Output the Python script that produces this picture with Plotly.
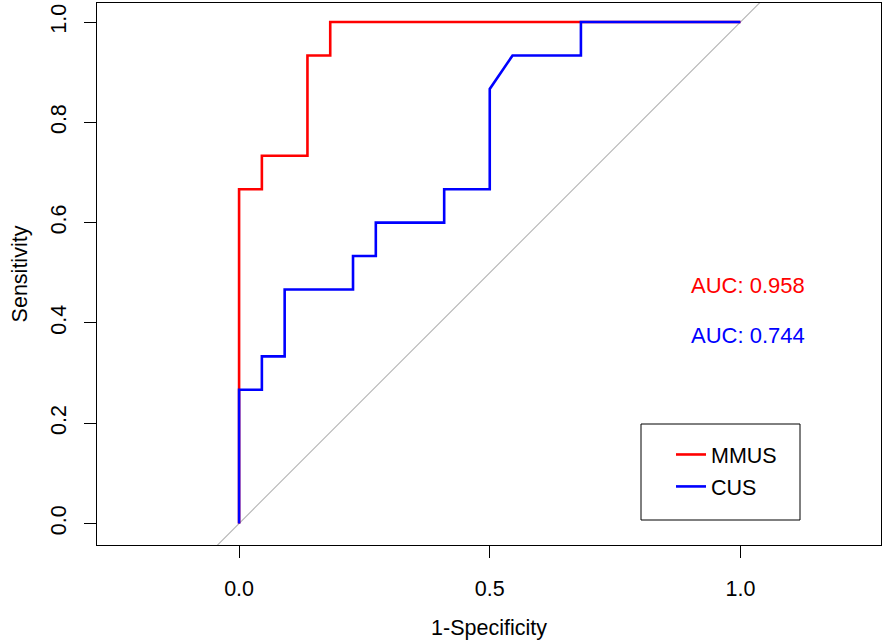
import plotly.graph_objects as go

# Data (22 negatives, 15 positives)
mmus_fpr = [0, 0, 1/22, 1/22, 3/22, 3/22, 4/22, 4/22, 1.0]
mmus_tpr = [0, 10/15, 10/15, 11/15, 11/15, 14/15, 14/15, 1.0, 1.0]
cus_fpr = [0, 0, 1/22, 1/22, 2/22, 2/22, 5/22, 5/22, 6/22, 6/22, 9/22, 9/22,
           11/22, 11/22, 12/22, 15/22, 15/22, 1.0]
cus_tpr = [0, 4/15, 4/15, 5/15, 5/15, 7/15, 7/15, 8/15, 8/15, 9/15, 9/15, 10/15,
           10/15, 13/15, 14/15, 14/15, 1.0, 1.0]
auc_labels = ["AUC: 0.958", "AUC: 0.744"]
auc_y = [0.4756, 0.374]
auc_x = 1.015
series_names = ["MMUS", "CUS"]
colors = ["#FF0000", "#0000FF"]
x_ticks = [0.0, 0.5, 1.0]
x_ticklabels = ["0.0", "0.5", "1.0"]
y_ticks = [0.0, 0.2, 0.4, 0.6, 0.8, 1.0]
y_ticklabels = ["0.0", "0.2", "0.4", "0.6", "0.8", "1.0"]

FONT = "Liberation Sans, Arial, sans-serif"
FS = 21.5

fig = go.Figure()
# chance diagonal
fig.add_trace(go.Scatter(x=[-1, 2], y=[-1, 2], mode="lines",
                         line=dict(color="#B4B4B4", width=1.1), showlegend=False,
                         hoverinfo="skip"))
fig.add_trace(go.Scatter(x=mmus_fpr, y=mmus_tpr, mode="lines", name=series_names[0],
                         line=dict(color=colors[0], width=2.6), legendgroup="a"))
fig.add_trace(go.Scatter(x=cus_fpr, y=cus_tpr, mode="lines", name=series_names[1],
                         line=dict(color=colors[1], width=2.6), legendgroup="b"))

for txt, yy, c in zip(auc_labels, auc_y, colors):
    fig.add_annotation(x=auc_x, y=yy, xref="x", yref="y", text=txt, showarrow=False,
                       font=dict(family=FONT, size=22, color=c),
                       xanchor="center", yanchor="middle")

L, R, T, B = 97, 5, 3, 96
W, H = 886, 641
pw, ph = W - L - R, H - T - B

def px_x(p):
    return (p - L) / pw

def px_y(p):
    return (H - B - p) / ph

fig.add_shape(type="rect", xref="paper", yref="paper",
              x0=px_x(641), x1=px_x(800), y0=px_y(520), y1=px_y(424),
              line=dict(color="black", width=1), fillcolor="rgba(0,0,0,0)")

axis_common = dict(showline=True, linecolor="black", linewidth=1, mirror=True,
                   ticks="outside", ticklen=12, tickcolor="black", tickwidth=1,
                   showgrid=False, zeroline=False,
                   tickfont=dict(family=FONT, size=FS, color="black"),
                   title_font=dict(family=FONT, size=FS, color="black"))

fig.update_layout(
    width=W, height=H, autosize=False,
    margin=dict(l=L, r=R, t=T, b=B),
    paper_bgcolor="white", plot_bgcolor="white",
    xaxis=dict(range=[-0.2834, 1.2804], tickvals=x_ticks, ticktext=x_ticklabels,
               title=dict(text="1-Specificity", standoff=20), ticklabelstandoff=12,
               **axis_common),
    yaxis=dict(range=[-0.0429, 1.038], tickvals=y_ticks, ticktext=y_ticklabels,
               tickangle=-90, title=dict(text="Sensitivity", standoff=13),
               ticklabelstandoff=9, **axis_common),
    legend=dict(x=px_x(671), y=px_y(434), xanchor="left", yanchor="top",
                bgcolor="rgba(0,0,0,0)", borderwidth=0, tracegroupgap=1,
                font=dict(family=FONT, size=FS, color="black")),
)

fig.write_html("out.html", config={"displayModeBar": False},
               post_script="document.body.style.margin='0';document.body.style.padding='0';")
